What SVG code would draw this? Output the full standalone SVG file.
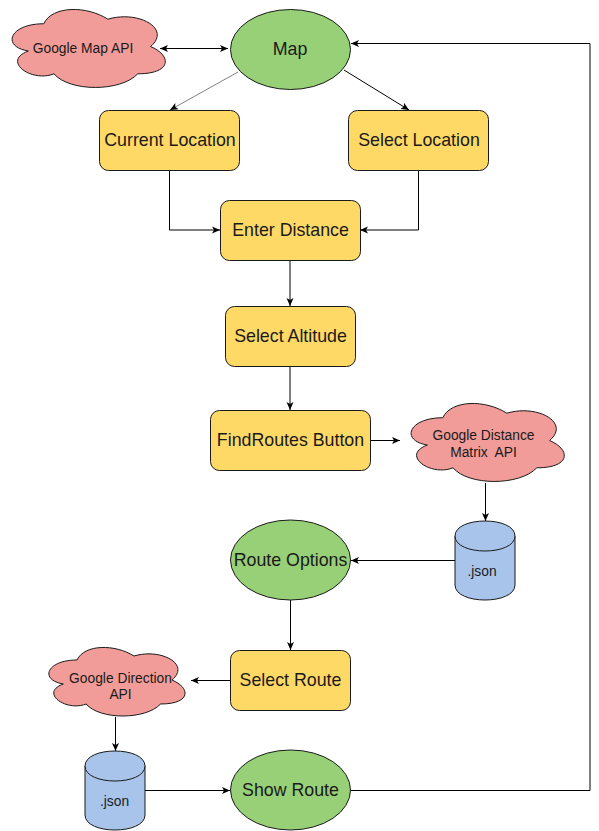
<svg xmlns="http://www.w3.org/2000/svg" width="599" height="831" viewBox="0 0 599 831">
<style>
.t{font-family:"Liberation Sans",Arial,sans-serif;font-size:17.8px;fill:#1a1a1a;text-anchor:middle}
.s{font-family:"Liberation Sans",Arial,sans-serif;font-size:13.8px;fill:#1a1a1a;text-anchor:middle}
.g{fill:#97D077;stroke:#1a1a1a;stroke-width:1}
.y{fill:#FFD966;stroke:#1a1a1a;stroke-width:1}
.c{fill:#F19C99;stroke:#1a1a1a;stroke-width:1}
.b{fill:#A9C4EB;stroke:#1a1a1a;stroke-width:1}
.e{fill:none;stroke:#000;stroke-width:1}
.arr{marker-end:url(#ah)}
</style>
<defs>
<marker id="ah" viewBox="0 0 8 8" refX="8" refY="4" markerWidth="8" markerHeight="8" markerUnits="userSpaceOnUse" orient="auto-start-reverse">
<path d="M0,0.5 L8,4 L0,7.5 L2,4 Z" fill="#000"/>
</marker>
</defs>
<g id="connectors">
<path class="e" d="M160,48.5 L228,48.5" marker-start="url(#ah)" marker-end="url(#ah)"/>
<path class="e arr" d="M238,72 L170,110" style="stroke:#808080"/>
<path class="e arr" d="M344,70 L409,110"/>
<path class="e arr" d="M169.5,170 L169.5,230 L220,230"/>
<path class="e arr" d="M418.5,170 L418.5,230 L360,230"/>
<path class="e arr" d="M290,260 L290,306"/>
<path class="e arr" d="M290,366 L290,410"/>
<path class="e arr" d="M370,440.5 L400,440.5"/>
<path class="e arr" d="M485.5,483 L485.5,521"/>
<path class="e arr" d="M455,560.5 L351,560.5"/>
<path class="e arr" d="M290.5,600 L290.5,650"/>
<path class="e arr" d="M230,680.5 L191,680.5"/>
<path class="e arr" d="M115.5,717 L115.5,751"/>
<path class="e arr" d="M145,790.5 L230,790.5"/>
<path class="e arr" d="M350.5,790.5 L590,790.5 L590,43.5 L351,43.5"/>
</g>
<g id="google-map-api">
<path class="c" d="M43.75,23.75 C9.55,23.75 1,46.5 28.36,51.05 C1,61.06 31.78,82.9 54.01,73.8 C69.4,92 120.7,92 137.8,73.8 C172,73.8 172,55.6 150.6,46.5 C172,28.3 137.8,10.1 107.9,19.2 C86.5,5.55 52.3,5.55 43.75,23.75 Z"/>
<text class="s" x="83" y="52.5">Google Map API</text>
</g>
<g id="map">
<ellipse class="g" cx="290.5" cy="49.5" rx="60" ry="40"/>
<text class="t" x="290" y="54.5">Map</text>
</g>
<g id="current-location">
<rect class="y" x="99.5" y="110.5" width="140" height="60" rx="9"/>
<text class="t" x="170" y="145.5">Current Location</text>
</g>
<g id="select-location">
<rect class="y" x="348.5" y="110.5" width="140" height="60" rx="9"/>
<text class="t" x="419" y="145.5">Select Location</text>
</g>
<g id="enter-distance">
<rect class="y" x="220.5" y="200.5" width="140" height="60" rx="9"/>
<text class="t" x="290.5" y="235.5">Enter Distance</text>
</g>
<g id="select-altitude">
<rect class="y" x="225.5" y="306.5" width="130" height="60" rx="9"/>
<text class="t" x="290.5" y="341.5">Select Altitude</text>
</g>
<g id="findroutes-button">
<rect class="y" x="210.5" y="410.5" width="160" height="60" rx="9"/>
<text class="t" x="290.5" y="445.5">FindRoutes Button</text>
</g>
<g id="google-distance-matrix-api">
<path class="c" d="M442.75,417.75 C408.55,417.75 400,440.5 427.36,445.05 C400,455.06 430.78,476.9 453.01,467.8 C468.4,486 519.7,486 536.8,467.8 C571,467.8 571,449.6 549.6,440.5 C571,422.3 536.8,404.1 506.9,413.2 C485.5,399.55 451.3,399.55 442.75,417.75 Z"/>
<text class="s" x="483.5" y="439.5" xml:space="preserve">Google Distance</text>
<text class="s" x="483.5" y="457" xml:space="preserve">Matrix  API</text>
</g>
<g id="json-1">
<path class="b" d="M455,536 C455,516 515,516 515,536 L515,585 C515,605 455,605 455,585 Z"/>
<path class="b" d="M455,536 C455,556 515,556 515,536" fill="none"/>
<text class="s" x="482" y="575.5">.json</text>
</g>
<g id="route-options">
<ellipse class="g" cx="290.5" cy="560" rx="60" ry="40"/>
<text class="t" x="290.5" y="565.5">Route Options</text>
</g>
<g id="select-route">
<rect class="y" x="230.5" y="650.5" width="120" height="60" rx="9"/>
<text class="t" x="290.5" y="685.5">Select Route</text>
</g>
<g id="google-direction-api">
<path class="c" d="M77,660 C46.6,660 39,680 63.32,684 C39,692.8 66.36,712 86.12,704 C99.8,720 145.4,720 160.6,704 C191,704 191,688 172,680 C191,664 160.6,648 134,656 C115,644 84.6,644 77,660 Z"/>
<text class="s" x="120.5" y="682.5">Google Direction</text>
<text class="s" x="120.5" y="699">API</text>
</g>
<g id="json-2">
<path class="b" d="M85,766 C85,746 145,746 145,766 L145,815 C145,835 85,835 85,815 Z"/>
<path class="b" d="M85,766 C85,786 145,786 145,766" fill="none"/>
<text class="s" x="114.5" y="806">.json</text>
</g>
<g id="show-route">
<ellipse class="g" cx="290.5" cy="790" rx="60" ry="40"/>
<text class="t" x="290.5" y="795.5">Show Route</text>
</g>
</svg>
